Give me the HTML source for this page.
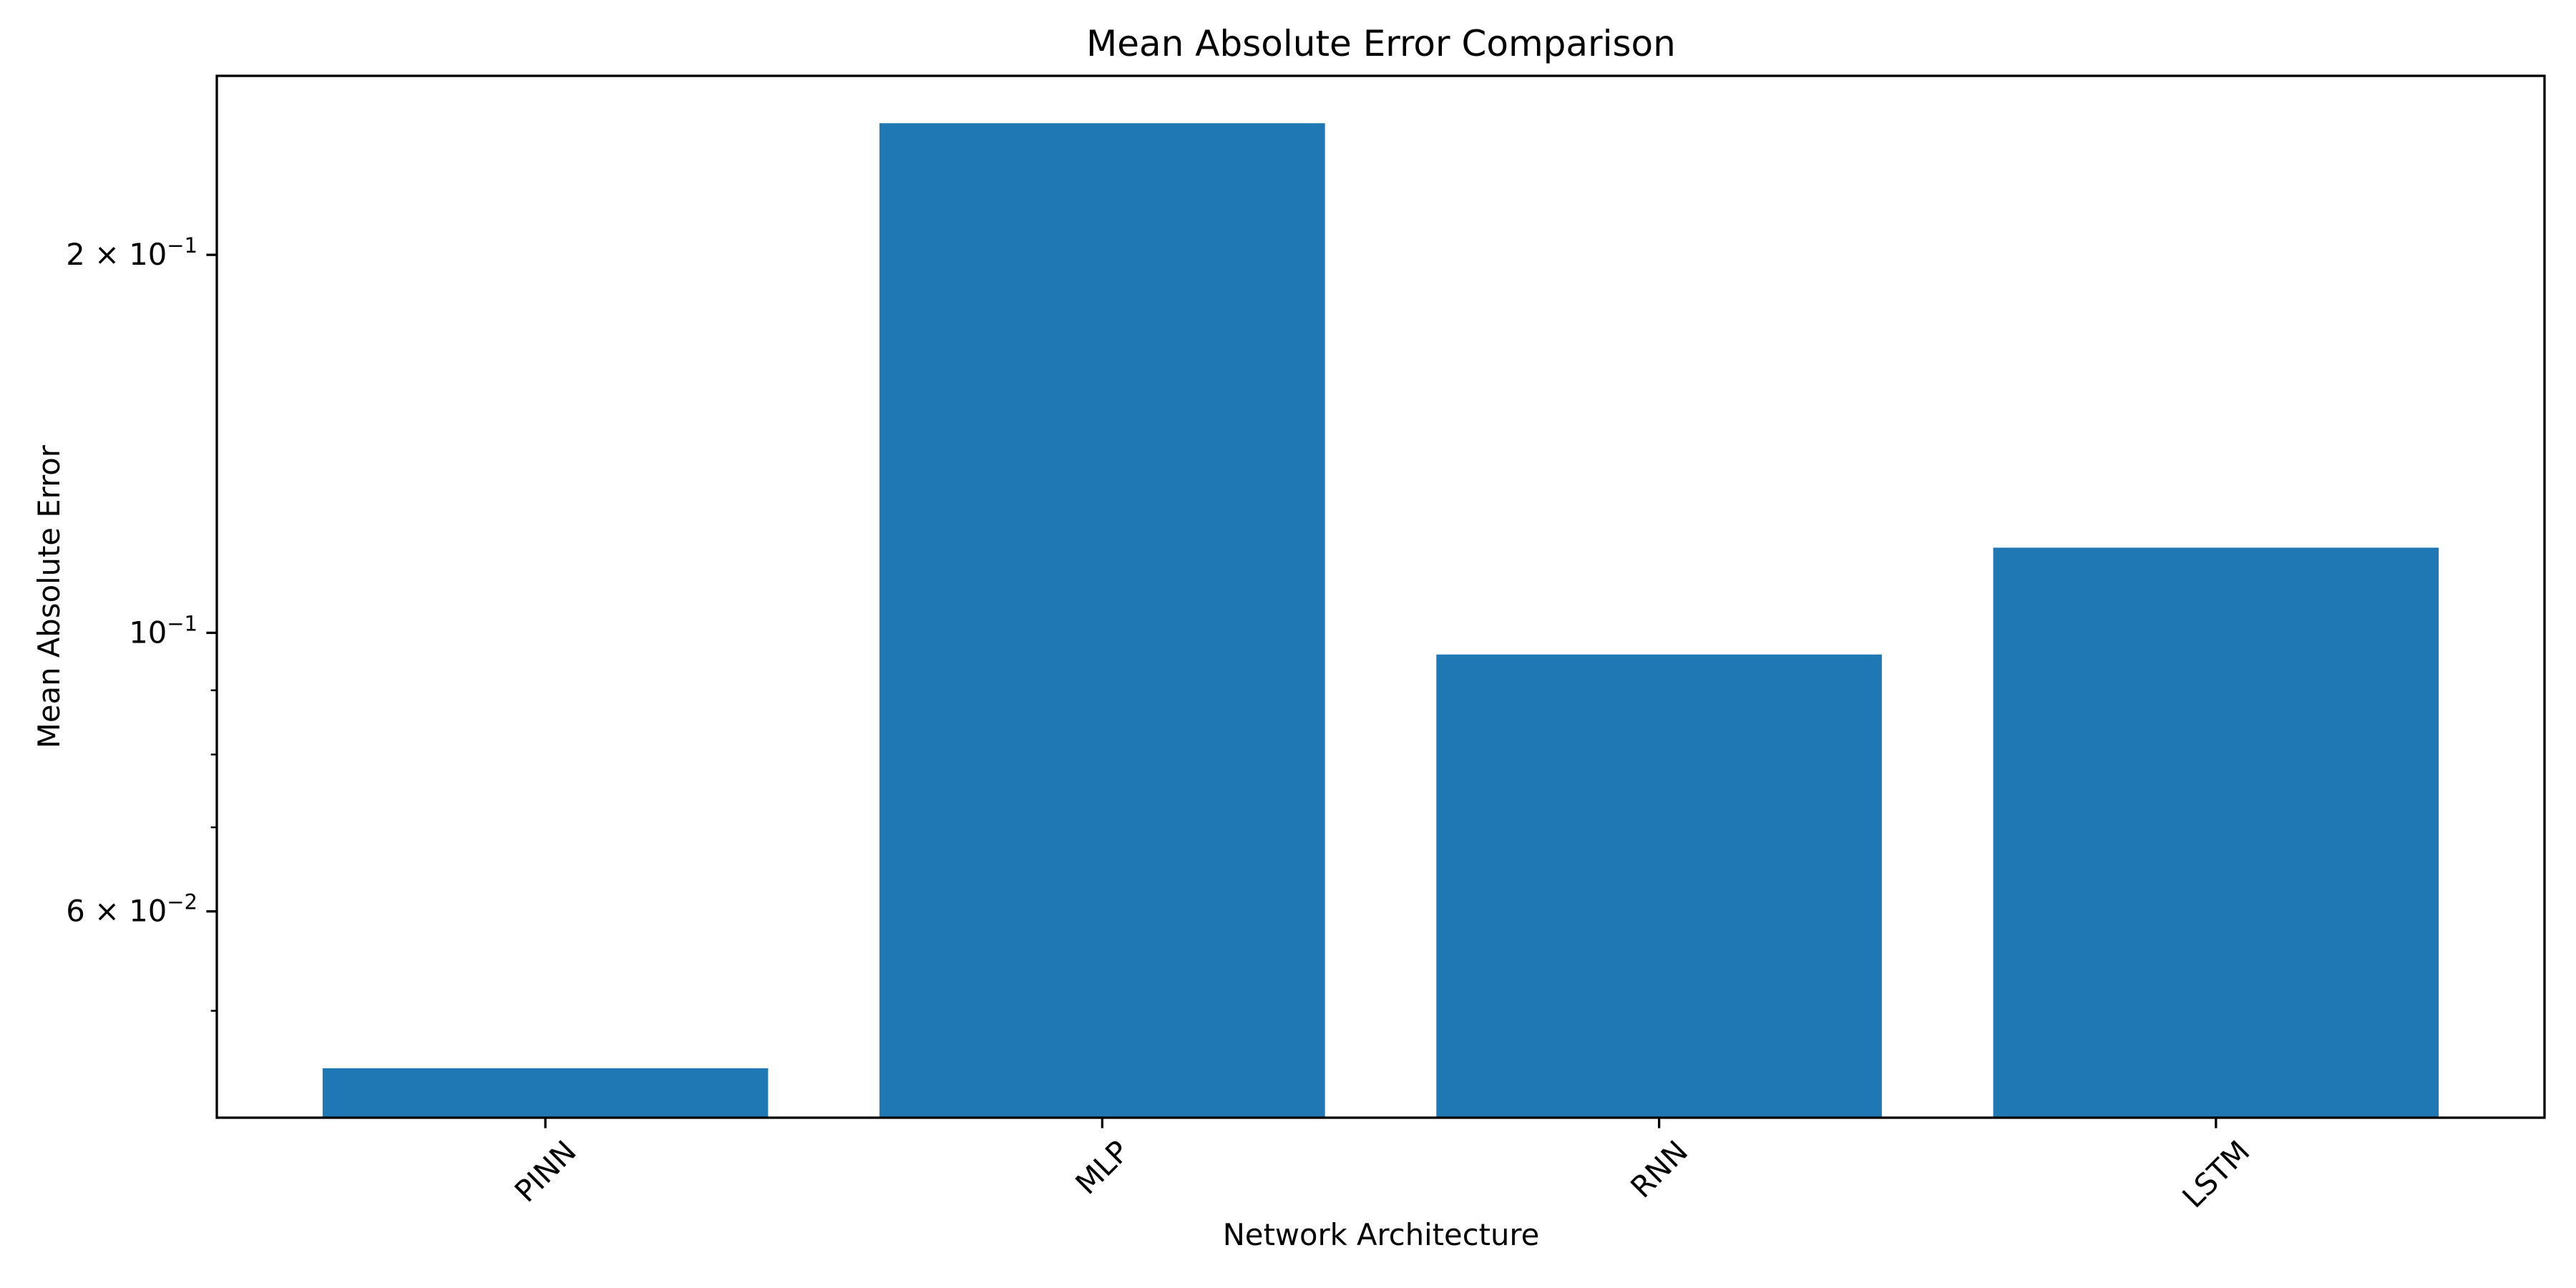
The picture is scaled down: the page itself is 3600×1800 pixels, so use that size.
<!DOCTYPE html>
<html><head><meta charset="utf-8"><style>
html,body{margin:0;padding:0;background:#fff;}
svg{display:block;font-family:"DejaVu Sans","Liberation Sans",sans-serif;}
</style></head><body>
<svg id="chart" width="3600" height="1800" viewBox="0 0 3600 1800">
<rect width="3600" height="1800" fill="#fff"/>
<text x="1930" y="78" font-size="50" text-anchor="middle">Mean Absolute Error Comparison</text>
<text x="1930" y="1740" font-size="41.7" text-anchor="middle">Network Architecture</text>
<text transform="translate(83,834) rotate(-90)" font-size="41.7" text-anchor="middle">Mean Absolute Error</text>
<g id="bars"></g>
<g id="axes"></g>
</svg>
<script>
const categories = ["PINN", "MLP", "RNN", "LSTM"];
const maeValues = [0.045, 0.2546, 0.0961, 0.1169];
const majorTicks = [0.06, 0.1, 0.2];
const majorTickMantissa = ["6", "", "2"];
const majorTickExponent = ["−2", "−1", "−1"];
const minorTicks = [0.05, 0.07, 0.08, 0.09];

const L = 303, R = 3556, T = 106, B = 1562;
const yMin = 0.0411, yMax = 0.2777;
const xMin = -0.59, xMax = 3.59;
const NS = "http://www.w3.org/2000/svg";
function xs(i){ return L + (i - xMin) / (xMax - xMin) * (R - L); }
function ys(v){ return B - (Math.log10(v) - Math.log10(yMin)) / (Math.log10(yMax) - Math.log10(yMin)) * (B - T); }
function mk(tag, attrs, parent){ const e = document.createElementNS(NS, tag); for (const k in attrs) e.setAttribute(k, attrs[k]); parent.appendChild(e); return e; }

const bars = document.getElementById('bars');
const axes = document.getElementById('axes');
categories.forEach((c, i) => {
  const x0 = xs(i - 0.4), x1 = xs(i + 0.4), y = ys(maeValues[i]);
  const r = mk('rect', {x: x0, y: y, width: x1 - x0, height: B - y, fill: '#1f77b4'}, bars);
  
  
  const cx = xs(i);
  const t = mk('line', {x1: cx, x2: cx, y1: B, y2: B + 14.6, stroke: '#000', 'stroke-width': 3.3}, axes);
  
  
  const lbl = mk('text', {x: 0, y: 0, 'font-size': 41.7, 'text-anchor': 'middle', 'dominant-baseline': 'central'}, axes);
  lbl.textContent = c;
  
  
  const len = lbl.getComputedTextLength();
  const h = 30;
  const half = (len + h) * 0.7071 / 2;
  lbl.setAttribute('transform', 'translate(' + cx + ',' + (B + 29 + half) + ') rotate(-45)');
});
majorTicks.forEach((v, i) => {
  const y = ys(v);
  const t = mk('line', {x1: L - 14.6, x2: L, y1: y, y2: y, stroke: '#000', 'stroke-width': 3.3}, axes);
  
  
  const lbl = mk('text', {x: L - 27, y: y + 14, 'font-size': 41.7, 'text-anchor': 'end'}, axes);
  
  
  const pre = majorTickMantissa[i] ? majorTickMantissa[i] + ' × 10' : '10';
  const s1 = mk('tspan', {}, lbl); s1.textContent = pre;
  const s2 = mk('tspan', {dy: -17, 'font-size': 29}, lbl); s2.textContent = majorTickExponent[i];
});
minorTicks.forEach(v => {
  const y = ys(v);
  const t = mk('line', {x1: L - 8.3, x2: L, y1: y, y2: y, stroke: '#000', 'stroke-width': 2.5}, axes);
  
  
});
const frame = mk('rect', {x: L, y: T, width: R - L, height: B - T, fill: 'none', stroke: '#000', 'stroke-width': 3.3}, axes);


</script>
</body></html>
